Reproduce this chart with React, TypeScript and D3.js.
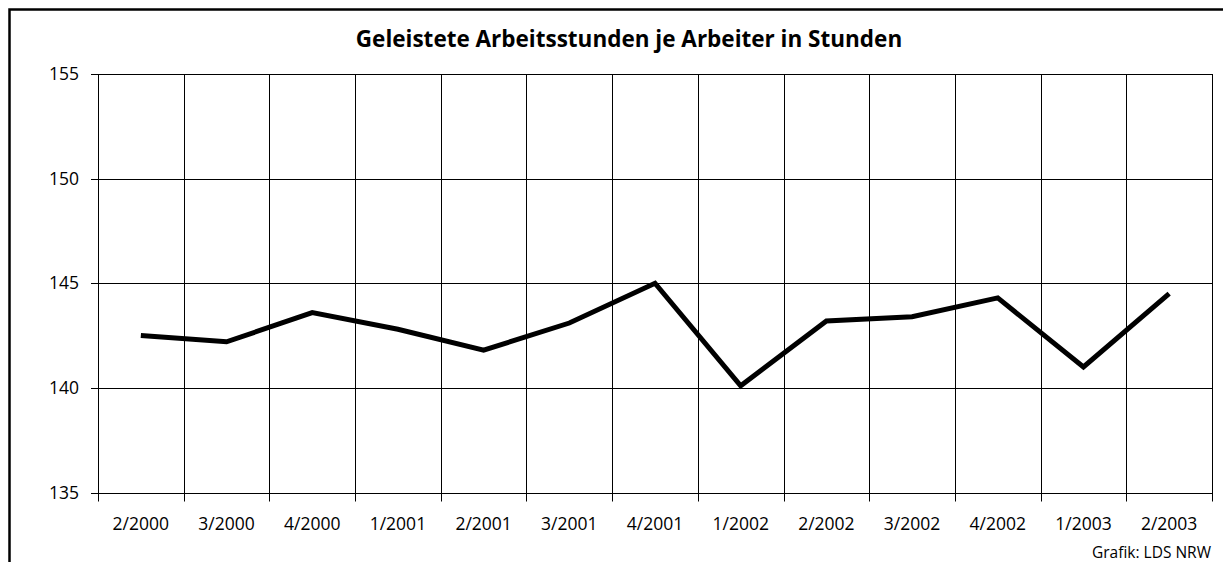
import React, { useEffect, useRef } from 'react';
import * as d3 from 'd3';

const categories = ['2/2000', '3/2000', '4/2000', '1/2001', '2/2001', '3/2001', '4/2001', '1/2002', '2/2002', '3/2002', '4/2002', '1/2003', '2/2003'];
const hours = [142.5, 142.2, 143.6, 142.8, 141.8, 143.1, 145.0, 140.1, 143.2, 143.4, 144.3, 141.0, 144.5];
const yTicks = [135, 140, 145, 150, 155];

const title = 'Geleistete Arbeitsstunden je Arbeiter in Stunden';
const source = 'Grafik: LDS NRW';

export default function App() {
  const ref = useRef<SVGSVGElement>(null);

  useEffect(() => {
    const svg = d3.select(ref.current);
    svg.selectAll('*').remove();

    const left = 98, right = 1212, top = 74, bottom = 492.5;
    const font = "'Open Sans', 'Noto Sans', sans-serif";

    const x = d3.scaleBand<string>().domain(categories).range([left, right]).padding(0);
    const y = d3.scaleLinear().domain([135, 155]).range([bottom, top]);

    // outer frame (runs off the page on the right and bottom)
    svg.append('path')
      .attr('d', `M9.5,570 L9.5,9.5 L1240,9.5`)
      .attr('fill', 'none')
      .attr('stroke', '#000')
      .attr('stroke-width', 2.5);

    svg.append('text')
      .attr('x', 629)
      .attr('y', 47)
      .attr('text-anchor', 'middle')
      .attr('font-family', font)
      .attr('font-weight', 'bold')
      .attr('font-size', 22.5)
      .text(title);

    const g = svg.append('g');

    // horizontal grid + y ticks
    yTicks.forEach(t => {
      g.append('line')
        .attr('x1', left - 7).attr('x2', right)
        .attr('y1', Math.round(y(t)) + 0.5).attr('y2', Math.round(y(t)) + 0.5)
        .attr('stroke', '#000').attr('stroke-width', 1);
      g.append('text')
        .attr('x', 79)
        .attr('y', y(t) + 6)
        .attr('text-anchor', 'end')
        .attr('font-family', font)
        .attr('font-size', 17.5)
        .text(t);
    });

    // vertical grid at category boundaries + x ticks
    const bounds = categories.map(c => x(c) as number).concat([right]);
    bounds.forEach(b => {
      g.append('line')
        .attr('x1', Math.round(b) + 0.5).attr('x2', Math.round(b) + 0.5)
        .attr('y1', top).attr('y2', bottom + 9)
        .attr('stroke', '#000').attr('stroke-width', 1);
    });

    categories.forEach(c => {
      g.append('text')
        .attr('x', (x(c) as number) + x.bandwidth() / 2)
        .attr('y', 530)
        .attr('text-anchor', 'middle')
        .attr('font-family', font)
        .attr('font-size', 17.5)
        .text(c);
    });

    const line = d3.line<number>()
      .x((d, i) => (x(categories[i]) as number) + x.bandwidth() / 2)
      .y(d => y(d));

    g.append('path')
      .datum(hours)
      .attr('d', line)
      .attr('fill', 'none')
      .attr('stroke', '#000')
      .attr('stroke-width', 5)
      .attr('stroke-linejoin', 'miter');

    svg.append('text')
      .attr('x', 1211)
      .attr('y', 558)
      .attr('text-anchor', 'end')
      .attr('font-family', font)
      .attr('font-size', 15.5)
      .text(source);
  }, []);

  return (
    <svg ref={ref} width={1223} height={562}
      style={{ position: 'absolute', left: 0, top: 0, background: '#fff' }} />
  );
}
